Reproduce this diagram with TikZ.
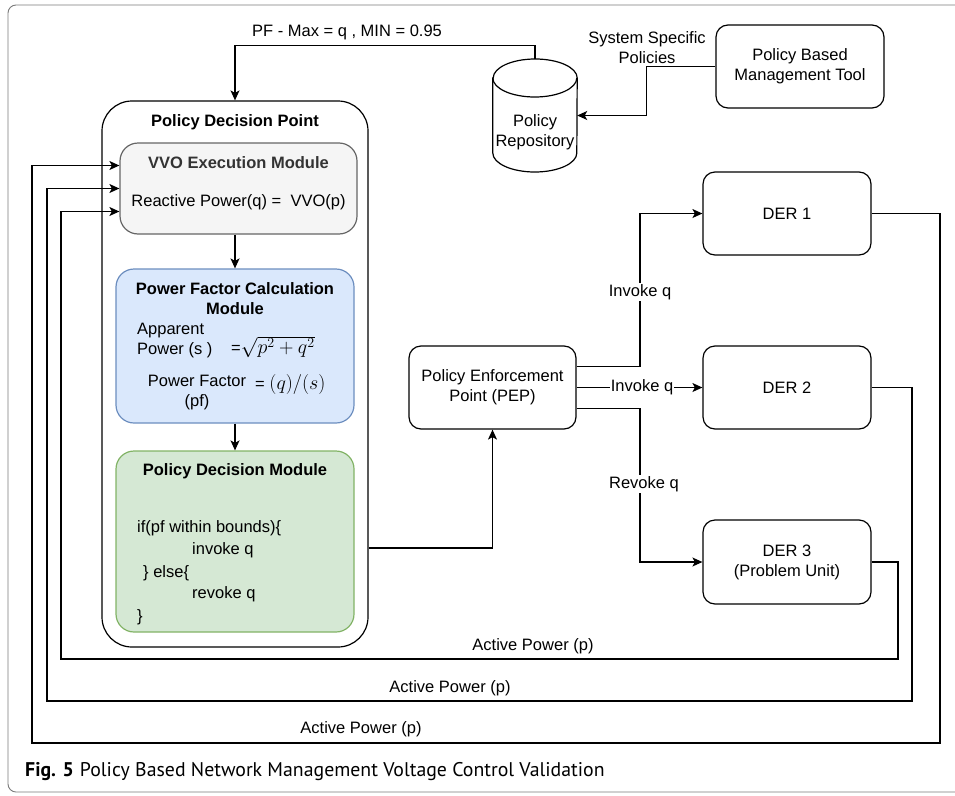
\documentclass[tikz,border=0pt]{standalone}
\usepackage{fix-cm}
\usepackage{fontspec}
\setmainfont{Liberation Sans}
\newfontfamily\capfont{PT Sans}
\usetikzlibrary{arrows.meta,calc}

\definecolor{vvofill}{HTML}{F5F5F5}
\definecolor{vvoline}{HTML}{666666}
\definecolor{vvotext}{HTML}{333333}
\definecolor{pfcfill}{HTML}{DAE8FC}
\definecolor{pfcline}{HTML}{6C8EBF}
\definecolor{pdmfill}{HTML}{D5E8D4}
\definecolor{pdmline}{HTML}{82B366}
\definecolor{framegray}{HTML}{7A7A7A}

\newcommand{\dfont}{\fontsize{16.5}{20}\selectfont}
\newcommand{\mfont}{\fontsize{20}{24}\selectfont}

\begin{document}
\begin{tikzpicture}[x=1pt, y=-1pt, font=\dfont,
    box/.style={draw, rounded corners=12pt, line width=1.2pt, inner sep=0pt, align=center},
    module/.style={box, rounded corners=18pt, minimum width=238pt},
    title/.style={font=\dfont\bfseries, align=center},
    code/.style={anchor=west, inner sep=0pt},
    flow/.style={line width=1.2pt, -{Stealth[length=10pt,width=9pt,inset=2.5pt]}},
    link/.style={line width=1.2pt},
    tag/.style={fill=white, inner sep=1pt}]

    \useasboundingbox (0,0) rectangle (955,795);

    % Frame
    \draw[framegray, line width=0.9pt, rounded corners=8pt] (8,5) rectangle (985,792);

    % Policy decision point
    \node[box, rounded corners=30pt, minimum width=266pt, minimum height=546pt] (pdp) at (235,374) {};
    \node[title] (pdptitle) at (235,122) {Policy Decision Point};

    % VVO execution module
    \node[module, fill=vvofill, draw=vvoline, minimum width=237pt, minimum height=91pt] (vvo) at (238.5,188.5) {};
    \node[title, text=vvotext] (vvotitle) at (238.5,163) {VVO Execution Module};
    \node (vvoeq) at (238.5,202) {Reactive Power(q) =\ \ VVO(p)};

    % Power factor calculation module
    \node[module, fill=pfcfill, draw=pfcline, minimum height=154pt] (pfc) at (235,346) {};
    \node[title] (pfctitle) at (235,299) {Power Factor Calculation\\Module};
    \node[code, align=left] (apparent) at (137,341) {Apparent\\Power (s )};
    \node[code] (apparenteq) at (231,347) {=\mfont$\sqrt{p^2+q^2}$};
    \node[align=center] (pf) at (197,393) {Power Factor\\(pf)};
    \node[code] (pfeq) at (255,384) {= \mfont$(q)/(s)$};

    % Policy decision module
    \node[module, fill=pdmfill, draw=pdmline, minimum height=181pt] (pdm) at (235,541.5) {};
    \node[title] (pdmtitle) at (235,471) {Policy Decision Module};
    \foreach \txt/\xpos/\ypos [count=\i] in {{if(pf within bounds)\{}/137/528, invoke q/192/550,
        {\} else\{}/143/573, revoke q/192/594, \}/137/617}
        \node[code] (code\i) at (\xpos,\ypos) {\txt};

    % Enforcement point, DER units and management tool
    \node[box, minimum width=167pt, minimum height=83pt] (pep) at (492.5,387.5) {Policy Enforcement\\Point (PEP)};
    \node[box, minimum width=168pt, minimum height=83pt] (der1) at (787,213.5) {DER 1};
    \node[box, minimum width=168pt, minimum height=83pt] (der2) at (787,387.5) {DER 2};
    \node[box, minimum width=168pt, minimum height=84pt] (der3) at (787,562) {DER 3\\(Problem Unit)};
    \node[box, minimum width=168pt, minimum height=83pt] (pbmt) at (800,66.5) {Policy Based\\Management Tool};

    % Policy repository (cylinder)
    \node[minimum width=84pt, minimum height=113pt, inner sep=0pt] (repo) at (535,115.5) {};
    \draw[link, fill=white] (repo.west |- 0,78) -- (repo.west |- 0,153)
        arc[start angle=180, end angle=360, x radius=42pt, y radius=19pt]
        -- (repo.east |- 0,78)
        arc[start angle=0, end angle=180, x radius=42pt, y radius=19pt] -- cycle;
    \draw[link] (repo.west |- 0,78) arc[start angle=180, end angle=360, x radius=42pt, y radius=19pt];
    \node[align=center] (repotext) at (535,132) {Policy\\Repository};

    % Policies into the decision point
    \draw[flow] (repo.north) -- ++(0,-13) -| (pdp.north);
    \node (pflabel) at (347,32) {PF - Max = q , MIN = 0.95};
    \draw[flow] (pbmt.west) -| ($(pbmt.west)!.5!(repo.east)$) |- (repo.east);
    \node[align=center] (ssp) at (647,48) {System Specific\\Policies};

    % Inner arrows
    \draw[flow] (vvo.south -| pdp.center) -- (pfc.north);
    \draw[flow] (pfc.south) -- (pdm.north);

    % Decision to enforcement
    \coordinate (pdpout) at (pdp.east |- 0,548);
    \draw[flow] (pdpout) -| (pep.south);

    % Enforcement to DER units
    \coordinate (fork) at (640,387.5);
    \draw[flow] ($(pep.east)+(0,-21)$) -| (fork |- der1.west) -- (der1.west);
    \node[tag] (inv1) at (640,292) {Invoke q};
    \draw[flow] (pep.east) -- (der2.west) node[tag, pos=.52] (inv2) {Invoke q};
    \draw[flow] ($(pep.east)+(0,21)$) -| (fork |- der3.west) -- (der3.west);
    \node[tag] (rev3) at (644,484) {Revoke q};

    % Active power feedback
    \coordinate (in1) at ($(vvo.west)+(0,-23)$);
    \coordinate (in3) at ($(vvo.west)+(0,23)$);
    \draw[flow] (der1.east) -| (940,743) -| (32,0 |- in1) -- (in1);
    \draw[flow] (der2.east) -| (912,701) -| (47,0 |- vvo.west) -- (vvo.west);
    \draw[flow] (der3.east) -| (898,659) -| (61,0 |- in3) -- (in3);
    \node (ap1) at (533,646) {Active Power (p)};
    \node (ap2) at (450,688) {Active Power (p)};
    \node (ap3) at (361,729) {Active Power (p)};

    % Caption
    \node[anchor=west, inner sep=0pt, font=\capfont\fontsize{19.8}{23}\selectfont] (caption) at (25,772)
        {\textbf{Fig. 5}\hspace{6pt}Policy Based Network Management Voltage Control Validation};
\end{tikzpicture}
\end{document}
